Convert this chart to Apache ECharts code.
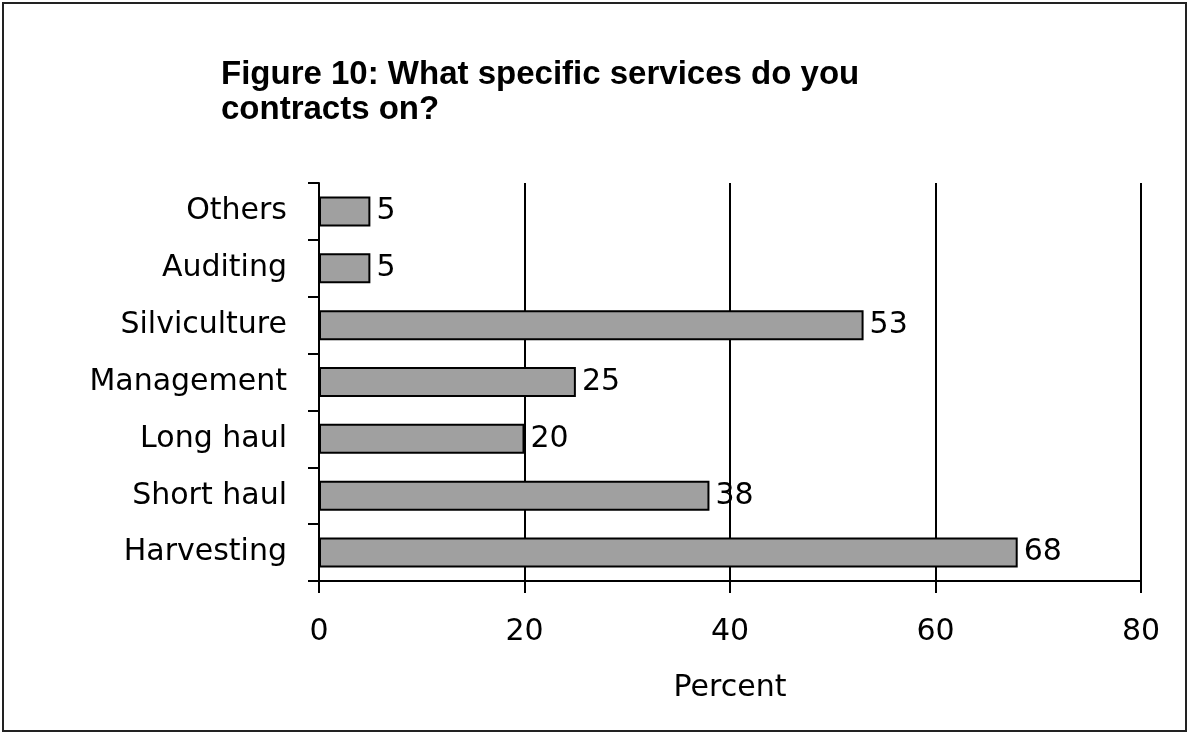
<!DOCTYPE html>
<html>
<head>
<meta charset="utf-8">
<script src="https://cdn.jsdelivr.net/npm/echarts@6/dist/echarts.min.js"></script>
<style>
  html, body { margin: 0; padding: 0; background: #fff; }
  #chart { width: 1188px; height: 733px; }
</style>
</head>
<body>
<div id="chart"></div>
<script>
// Survey answers: share of respondents contracting on each service
const categories = ['Harvesting', 'Short haul', 'Long haul', 'Management', 'Silviculture', 'Auditing', 'Others'];
const percentValues = [68, 38, 20, 25, 53, 5, 5];
const xTicks = [0, 20, 40, 60, 80];

const chart = echarts.init(document.getElementById('chart'), null, { renderer: 'canvas' });
const labelFont = 'DejaVu Sans, Verdana, sans-serif';

chart.setOption({
  backgroundColor: '#ffffff',
  animation: false,
  title: {
    text: 'Figure 10: What specific services do you\ncontracts on?',
    left: 216,
    top: 52,
    textStyle: {
      fontFamily: 'Liberation Sans, Arial, sans-serif',
      fontWeight: 'bold',
      fontSize: 33,
      lineHeight: 35,
      color: '#000'
    }
  },
  graphic: [{
    type: 'rect',
    shape: { x: 3, y: 3, width: 1183, height: 728 },
    style: { fill: null, stroke: '#222', lineWidth: 2 },
    silent: true
  }],
  grid: { left: 319, right: 47, top: 183, bottom: 152 },
  xAxis: {
    type: 'value',
    min: xTicks[0],
    max: xTicks[xTicks.length - 1],
    interval: xTicks[1] - xTicks[0],
    name: 'Percent',
    nameLocation: 'middle',
    nameGap: 92,
    nameTextStyle: { fontFamily: labelFont, fontSize: 30, color: '#000' },
    axisLine: { show: true, lineStyle: { color: '#000', width: 2 } },
    axisTick: { show: true, length: 12, lineStyle: { color: '#000', width: 2 } },
    axisLabel: { margin: 36, fontFamily: labelFont, fontSize: 30, color: '#000' },
    splitLine: { show: true, lineStyle: { color: '#000', width: 2 } }
  },
  yAxis: {
    type: 'category',
    data: categories,
    axisLine: { show: true, lineStyle: { color: '#000', width: 2 } },
    axisTick: { show: true, length: 11, alignWithLabel: false, lineStyle: { color: '#000', width: 2 } },
    axisLabel: { margin: 32, fontFamily: labelFont, fontSize: 30, color: '#000' },
    splitLine: { show: false }
  },
  series: [{
    type: 'bar',
    data: percentValues,
    barWidth: 30,
    itemStyle: { color: '#a0a0a0', borderColor: '#000', borderWidth: 2 },
    label: {
      show: true,
      position: 'right',
      distance: 6,
      fontFamily: labelFont,
      fontSize: 30,
      color: '#000'
    }
  }]
});
</script>
</body>
</html>
